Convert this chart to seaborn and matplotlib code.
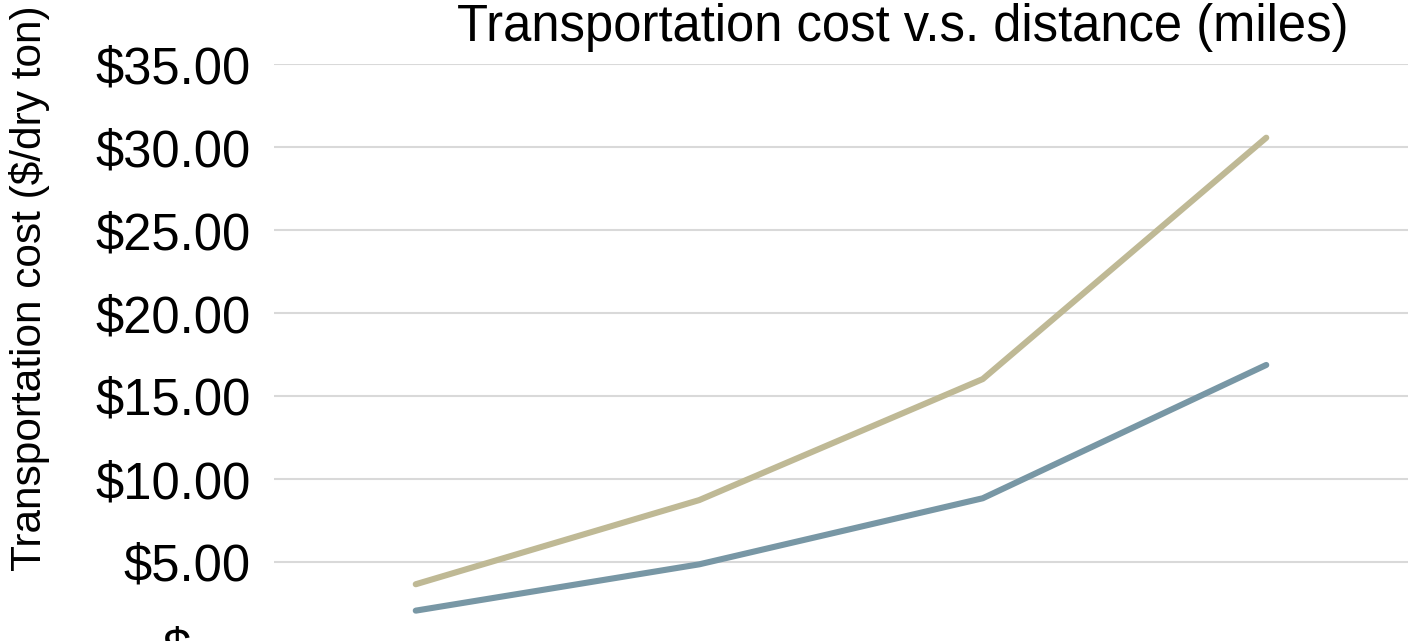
import pandas as pd
import matplotlib.pyplot as plt
import seaborn as sns
from matplotlib.ticker import FuncFormatter

# distance categories (the x labels are cut off in the reference)
distances = ["25", "50", "75", "100"]
cost_high = [3.66, 8.73, 16.02, 30.56]
cost_low = [2.07, 4.86, 8.84, 16.87]

df = pd.DataFrame({
    "distance": distances * 2,
    "cost": cost_high + cost_low,
    "series": ["high"] * 4 + ["low"] * 4,
})

sns.set_style("white")
plt.rcParams["font.family"] = ["Liberation Sans", "DejaVu Sans"]
plt.rcParams["text.color"] = "black"
plt.rcParams["ytick.color"] = "black"

fig = plt.figure(figsize=(14.1, 6.41), dpi=100)
ax = fig.add_axes([274 / 1410, -4 / 641, 1134 / 1410, 581 / 641])

sns.lineplot(data=df, x="distance", y="cost", hue="series",
             palette={"high": "#BFB995", "low": "#7897A5"},
             linewidth=4.4, legend=False, ax=ax,
             solid_capstyle="round")

ax.set_xlim(-0.5, 3.5)
ax.set_ylim(0, 35)
ax.set_yticks([0, 5, 10, 15, 20, 25, 30, 35])
# accounting style: zero shows as "$ -"
ax.yaxis.set_major_formatter(FuncFormatter(lambda v, p: "$  - " if v == 0 else f"${v:.2f}"))
ax.set_xticklabels([])
ax.grid(axis="y", color="#D9D9D9", linewidth=1.5)
ax.set_axisbelow(True)
for s in ax.spines.values():
    s.set_visible(False)
ax.tick_params(axis="y", length=0, pad=17, labelsize=36.5, labelcolor="black")
ax.tick_params(axis="x", length=0)
ax.set_xlabel("")
ax.set_ylabel("")

fig.text(903 / 1410, 1 - 27 / 641, "Transportation cost v.s. distance (miles)",
         ha="center", va="center", fontsize=36.5)
fig.text(30 / 1410, 1 - 288 / 641, "Transportation cost ($/dry ton)",
         ha="center", va="center", rotation=90, fontsize=30.5)

fig.savefig("out.png", dpi=100)
